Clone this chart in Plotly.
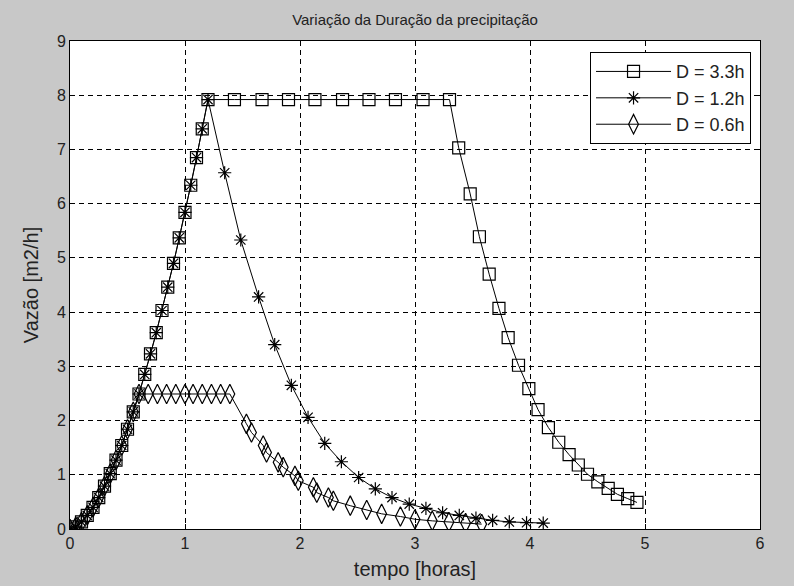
import plotly.graph_objects as go

# ramo ascendente comum (tempo em horas, vazao em m2/h)
t_subida = [0.0, 0.05, 0.10, 0.15, 0.20, 0.25, 0.30, 0.35, 0.40, 0.45, 0.50, 0.55, 0.60,
            0.65, 0.70, 0.75, 0.80, 0.85, 0.90, 0.95, 1.00, 1.05, 1.10, 1.15, 1.20]
q_subida = [0.0, 0.04, 0.13, 0.25, 0.40, 0.58, 0.79, 1.02, 1.27, 1.54, 1.84, 2.16, 2.49,
            2.85, 3.23, 3.62, 4.03, 4.46, 4.90, 5.37, 5.84, 6.34, 6.85, 7.38, 7.92]

# D = 3.3h
t_resto_33 = [1.43, 1.67, 1.90, 2.13, 2.37, 2.60, 2.83, 3.07, 3.30,
              3.38, 3.48, 3.56, 3.645, 3.73, 3.81, 3.90, 3.99, 4.07, 4.16,
              4.25, 4.34, 4.42, 4.50, 4.59, 4.68, 4.76, 4.85, 4.93]
q_resto_33 = [7.92, 7.92, 7.92, 7.92, 7.92, 7.92, 7.92, 7.92, 7.92,
              7.03, 6.18, 5.39, 4.70, 4.07, 3.53, 3.02, 2.59, 2.20, 1.87,
              1.60, 1.37, 1.18, 1.01, 0.87, 0.75, 0.64, 0.56, 0.49]

# D = 1.2h
t_resto_12 = [1.345, 1.485, 1.64, 1.78, 1.925, 2.07, 2.215, 2.36, 2.51, 2.655,
              2.80, 2.95, 3.095, 3.24, 3.385, 3.53, 3.675, 3.82, 3.97, 4.115]
q_resto_12 = [6.57, 5.33, 4.28, 3.40, 2.65, 2.06, 1.58, 1.24, 0.95, 0.74,
              0.58, 0.46, 0.38, 0.30, 0.25, 0.20, 0.16, 0.13, 0.115, 0.11]

# D = 0.6h
t_resto_06 = [0.68, 0.76, 0.84, 0.92, 1.00, 1.07, 1.15, 1.23, 1.31, 1.39,
              1.534, 1.578, 1.68, 1.709, 1.81, 1.854, 1.956, 1.985, 2.116, 2.146,
              2.247, 2.29, 2.437, 2.58, 2.71, 2.873, 3.0, 3.15, 3.295, 3.44, 3.58]
q_resto_06 = [2.49, 2.49, 2.49, 2.49, 2.49, 2.49, 2.49, 2.49, 2.49, 2.49,
              1.94, 1.78, 1.54, 1.41, 1.23, 1.14, 0.98, 0.89, 0.77, 0.67,
              0.58, 0.52, 0.43, 0.35, 0.28, 0.23, 0.18, 0.15, 0.13, 0.11, 0.09]

n06 = t_subida.index(0.60) + 1

series = [
    ("D = 3.3h", t_subida + t_resto_33, q_subida + q_resto_33, "square-open", 12),
    ("D = 1.2h", t_subida + t_resto_12, q_subida + q_resto_12, "asterisk-open", 11),
    ("D = 0.6h", t_subida[:n06] + t_resto_06, q_subida[:n06] + q_resto_06, "diamond-tall-open", 14),
]

fig = go.Figure()
for nome, t, q, simbolo, tam in series:
    fig.add_trace(go.Scatter(
        x=t, y=q, name=nome, mode="lines+markers",
        line=dict(color="black", width=1),
        marker=dict(symbol=simbolo, size=tam, color="black", line=dict(color="black", width=1.2)),
    ))

eixo = dict(
    showline=True, linecolor="black", linewidth=1, mirror="ticks",
    ticks="inside", ticklen=5, tickcolor="black",
    showgrid=True, gridcolor="black", gridwidth=1, griddash="5px,4px",
    zeroline=False, automargin=False,
    tickfont=dict(size=16, color="#222"),
    title_font=dict(size=20, color="#222"),
)

fig.update_xaxes(eixo, range=[0, 6], dtick=1, title_text="tempo [horas]", title_standoff=10)
fig.update_yaxes(eixo, range=[0, 9], dtick=1, title_text="Vazão [m2/h]", title_standoff=12)

fig.update_layout(
    width=794, height=586,
    paper_bgcolor="#c8c8c8", plot_bgcolor="white",
    font=dict(family="Liberation Sans, Arial, sans-serif", color="#222"),
    margin=dict(l=70, r=34, t=41, b=57),
    title=dict(text="Variação da Duração da precipitação", x=0.5, xref="paper",
               y=0.966, yref="container", yanchor="middle", font=dict(size=15, color="#222")),
    legend=dict(x=0.987, y=0.977, xanchor="right", yanchor="top",
                bgcolor="white", bordercolor="black", borderwidth=1,
                font=dict(size=18, color="#222"), tracegroupgap=0, itemwidth=75),
    showlegend=True,
)

# a pagina tem margem de 8px por omissao; retira-a para o grafico ocupar a janela
fig.write_html("out.html", config={"displayModeBar": False},
               post_script="document.body.style.margin='0';"
                           "document.body.style.background='#c8c8c8';")
